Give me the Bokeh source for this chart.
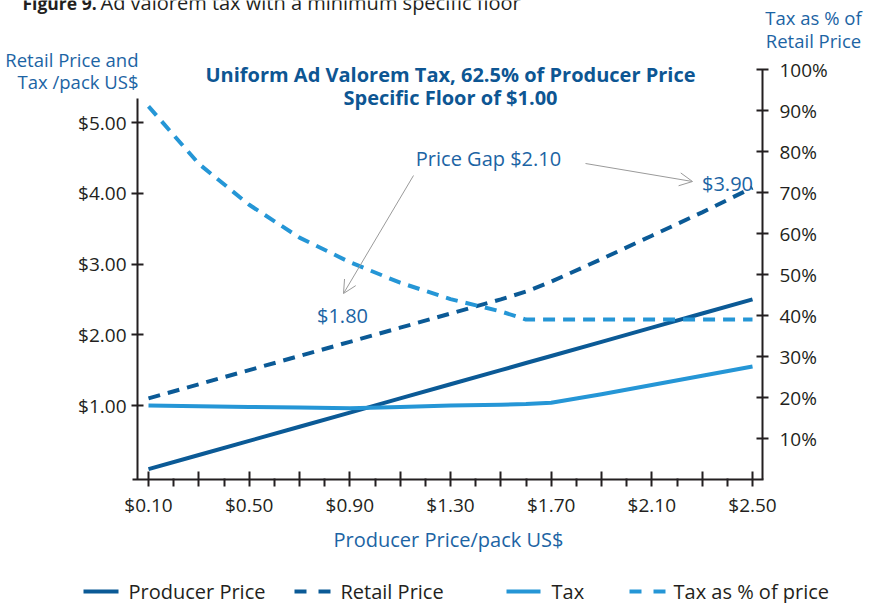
from bokeh.plotting import figure
from bokeh.models import (Range1d, LinearAxis, FixedTicker, Label, Arrow, OpenHead,
                          BoxAnnotation)
from bokeh.embed import file_html
from bokeh.resources import INLINE

# ---------------- data ----------------
producer_price = [0.10, 0.30, 0.50, 0.70, 0.90, 1.10, 1.30, 1.50, 1.60, 1.70, 1.90, 2.10, 2.30, 2.50]
producer_line = [0.10, 0.30, 0.50, 0.70, 0.90, 1.10, 1.30, 1.50, 1.60, 1.70, 1.90, 2.10, 2.30, 2.50]
retail_price = [1.10, 1.30, 1.50, 1.70, 1.90, 2.10, 2.30, 2.50, 2.61, 2.75, 3.07, 3.40, 3.73, 4.08]
tax = [1.00, 0.99, 0.98, 0.97, 0.96, 0.98, 1.00, 1.01, 1.02, 1.04, 1.16, 1.29, 1.42, 1.55]
tax_pct = [91, 77, 67, 59, 53, 48, 44, 41, 39, 39, 39, 39, 39, 39]

x_ticks = [0.10, 0.50, 0.90, 1.30, 1.70, 2.10, 2.50]
x_tick_labels = ["$0.10", "$0.50", "$0.90", "$1.30", "$1.70", "$2.10", "$2.50"]
x_unlabeled_ticks = [0.30, 0.70, 1.10, 1.50, 1.90, 2.30]
x_minor_ticks = [0.20, 0.40, 0.60, 0.80, 1.00, 1.20, 1.40, 1.60, 1.80, 2.00, 2.20, 2.40]
left_ticks = [1, 2, 3, 4, 5]
left_tick_labels = ["$1.00", "$2.00", "$3.00", "$4.00", "$5.00"]
right_ticks = [10, 20, 30, 40, 50, 60, 70, 80, 90, 100]
right_tick_labels = ["10%", "20%", "30%", "40%", "50%", "60%", "70%", "80%", "90%", "100%"]

DARK = "#0b5a96"
LIGHT = "#2596d6"
TXT = "#231f20"
TITLE_C = "#0d5693"
AX_T = "#1c64a4"
FONT = "Open Sans"

W, H = 872, 603
AXL, AXR, AXT, AXB = 137, 762, 69, 479      # axis positions, px
X0, PX_X0, SX = 0.10, 148.0, 251.67         # x: value X0 at px PX_X0, px per $
Y0PX, SY = 475.75, 70.75                     # left y: $0 at px, px per $
P0PX, SP = 479.0, 4.1                        # right y: 0% at px, px per %


def dx(px):
    return X0 + (px - PX_X0) / SX


def dy(py):
    return (Y0PX - py) / SY


def dp(py):
    return (P0PX - py) / SP


# the frame fills the whole canvas; the axes are pinned where the reference has them
p = figure(width=W, height=H, output_backend="svg", toolbar_location=None, title=None,
           x_range=Range1d(dx(0), dx(W)), y_range=Range1d(dy(H), dy(0)),
           min_border=0, outline_line_color=None, tools="")
p.extra_y_ranges = {"pct": Range1d(dp(H), dp(0))}
p.xgrid.visible = False
p.ygrid.visible = False

# bottom axis
xa = p.xaxis[0]
xa.fixed_location = dy(AXB)
xa.bounds = (dx(132), dx(AXR + 1))
xa.ticker = FixedTicker(ticks=sorted(x_ticks + x_unlabeled_ticks), minor_ticks=x_minor_ticks)
ov = {t: l for t, l in zip(x_ticks, x_tick_labels)}
ov.update({t: "" for t in x_unlabeled_ticks})
xa.major_label_overrides = ov
xa.major_tick_in = 8
xa.major_tick_out = 7
xa.minor_tick_in = 1
xa.minor_tick_out = 7
xa.major_label_standoff = 5

# left axis
ya = p.yaxis[0]
ya.fixed_location = dx(AXL)
ya.ticker = FixedTicker(ticks=left_ticks, minor_ticks=[])
ya.major_label_overrides = {t: l for t, l in zip(left_ticks, left_tick_labels)}
ya.bounds = (dy(AXB), dy(98))
ya.major_tick_in = 6
ya.major_tick_out = 6
ya.major_label_standoff = 5

# right axis
ra = LinearAxis(y_range_name="pct", ticker=FixedTicker(ticks=right_ticks, minor_ticks=[]))
ra.fixed_location = dx(AXR)
ra.bounds = (0, 100)
ra.major_label_overrides = {t: l for t, l in zip(right_ticks, right_tick_labels)}
ra.major_tick_in = 6
ra.major_tick_out = 6
ra.major_label_standoff = 11
p.add_layout(ra, "right")

for ax in (xa, ya, ra):
    ax.axis_line_color = TXT
    ax.axis_line_width = 2
    ax.major_tick_line_color = TXT
    ax.major_tick_line_width = 2
    ax.minor_tick_line_color = TXT
    ax.minor_tick_line_width = 2
    ax.major_label_text_font = FONT
    ax.major_label_text_font_size = "19px"
    ax.major_label_text_color = TXT

# series
p.line(producer_price, producer_line, line_color=DARK, line_width=4, line_join="round")
p.line(producer_price, retail_price, line_color=DARK, line_width=4, line_dash="12 8")
p.line(producer_price, tax, line_color=LIGHT, line_width=4, line_join="round")
p.line(producer_price, tax_pct, line_color=LIGHT, line_width=4, line_dash="12 8",
       y_range_name="pct")


# texts, positioned by page pixels through the plot's own scales
def lab(px, py, text, **kw):
    opts = dict(text_font=FONT, text_font_size="20px", text_color=AX_T,
                text_align="center", text_baseline="middle")
    opts.update(kw)
    p.add_layout(Label(x=dx(px), y=dy(py), text=text, **opts))


lab(488, 158, "Price Gap $2.10")
lab(342, 315, "$1.80")
lab(727, 183, "$3.90")
for (a, b, c, d) in [(413, 175, 343, 293), (585, 163, 692, 181)]:
    p.add_layout(Arrow(x_start=dx(a), y_start=dy(b), x_end=dx(c), y_end=dy(d),
                       line_color="#9a9a9a", line_width=1,
                       end=OpenHead(size=13, line_color="#9a9a9a", line_width=1)))

lab(22, 2, "Figure 9.", text_color=TXT, text_font_style="bold", text_align="left",
    text_baseline="alphabetic", text_font_size="17.5px")
lab(100, 2, "Ad valorem tax with a minimum specific floor", text_color=TXT,
    text_align="left", text_baseline="alphabetic")
lab(450, 74, "Uniform Ad Valorem Tax, 62.5% of Producer Price", text_color=TITLE_C,
    text_font_style="bold")
lab(450, 97, "Specific Floor of $1.00", text_color=TITLE_C, text_font_style="bold")
lab(138, 59, "Retail Price and", text_align="right", text_font_size="18.5px")
lab(138, 81, "Tax /pack US$", text_align="right", text_font_size="18.5px")
lab(813, 17, "Tax as % of", text_font_size="18.5px")
lab(813, 40, "Retail Price", text_font_size="18.5px")
lab(448, 539, "Producer Price/pack US$")

# legend
legend_items = ["Producer Price", "Retail Price", "Tax", "Tax as % of price"]
legend_text_x = [128, 340, 551, 673]
swatches = [[(83, 118)], [(294, 306), (318, 330)], [(506, 540)], [(629, 641), (653, 665)]]
sw_colors = [DARK, DARK, LIGHT, LIGHT]
LY = 591
for name, tx, segs, c in zip(legend_items, legend_text_x, swatches, sw_colors):
    lab(tx, LY, name, text_color=TXT, text_align="left")
    for (a, b) in segs:
        p.add_layout(BoxAnnotation(left=dx(a), right=dx(b), top=dy(LY - 2), bottom=dy(LY + 2),
                                   fill_color=c, fill_alpha=1, line_color=None))

open("out.html", "w").write(file_html(p, INLINE))
